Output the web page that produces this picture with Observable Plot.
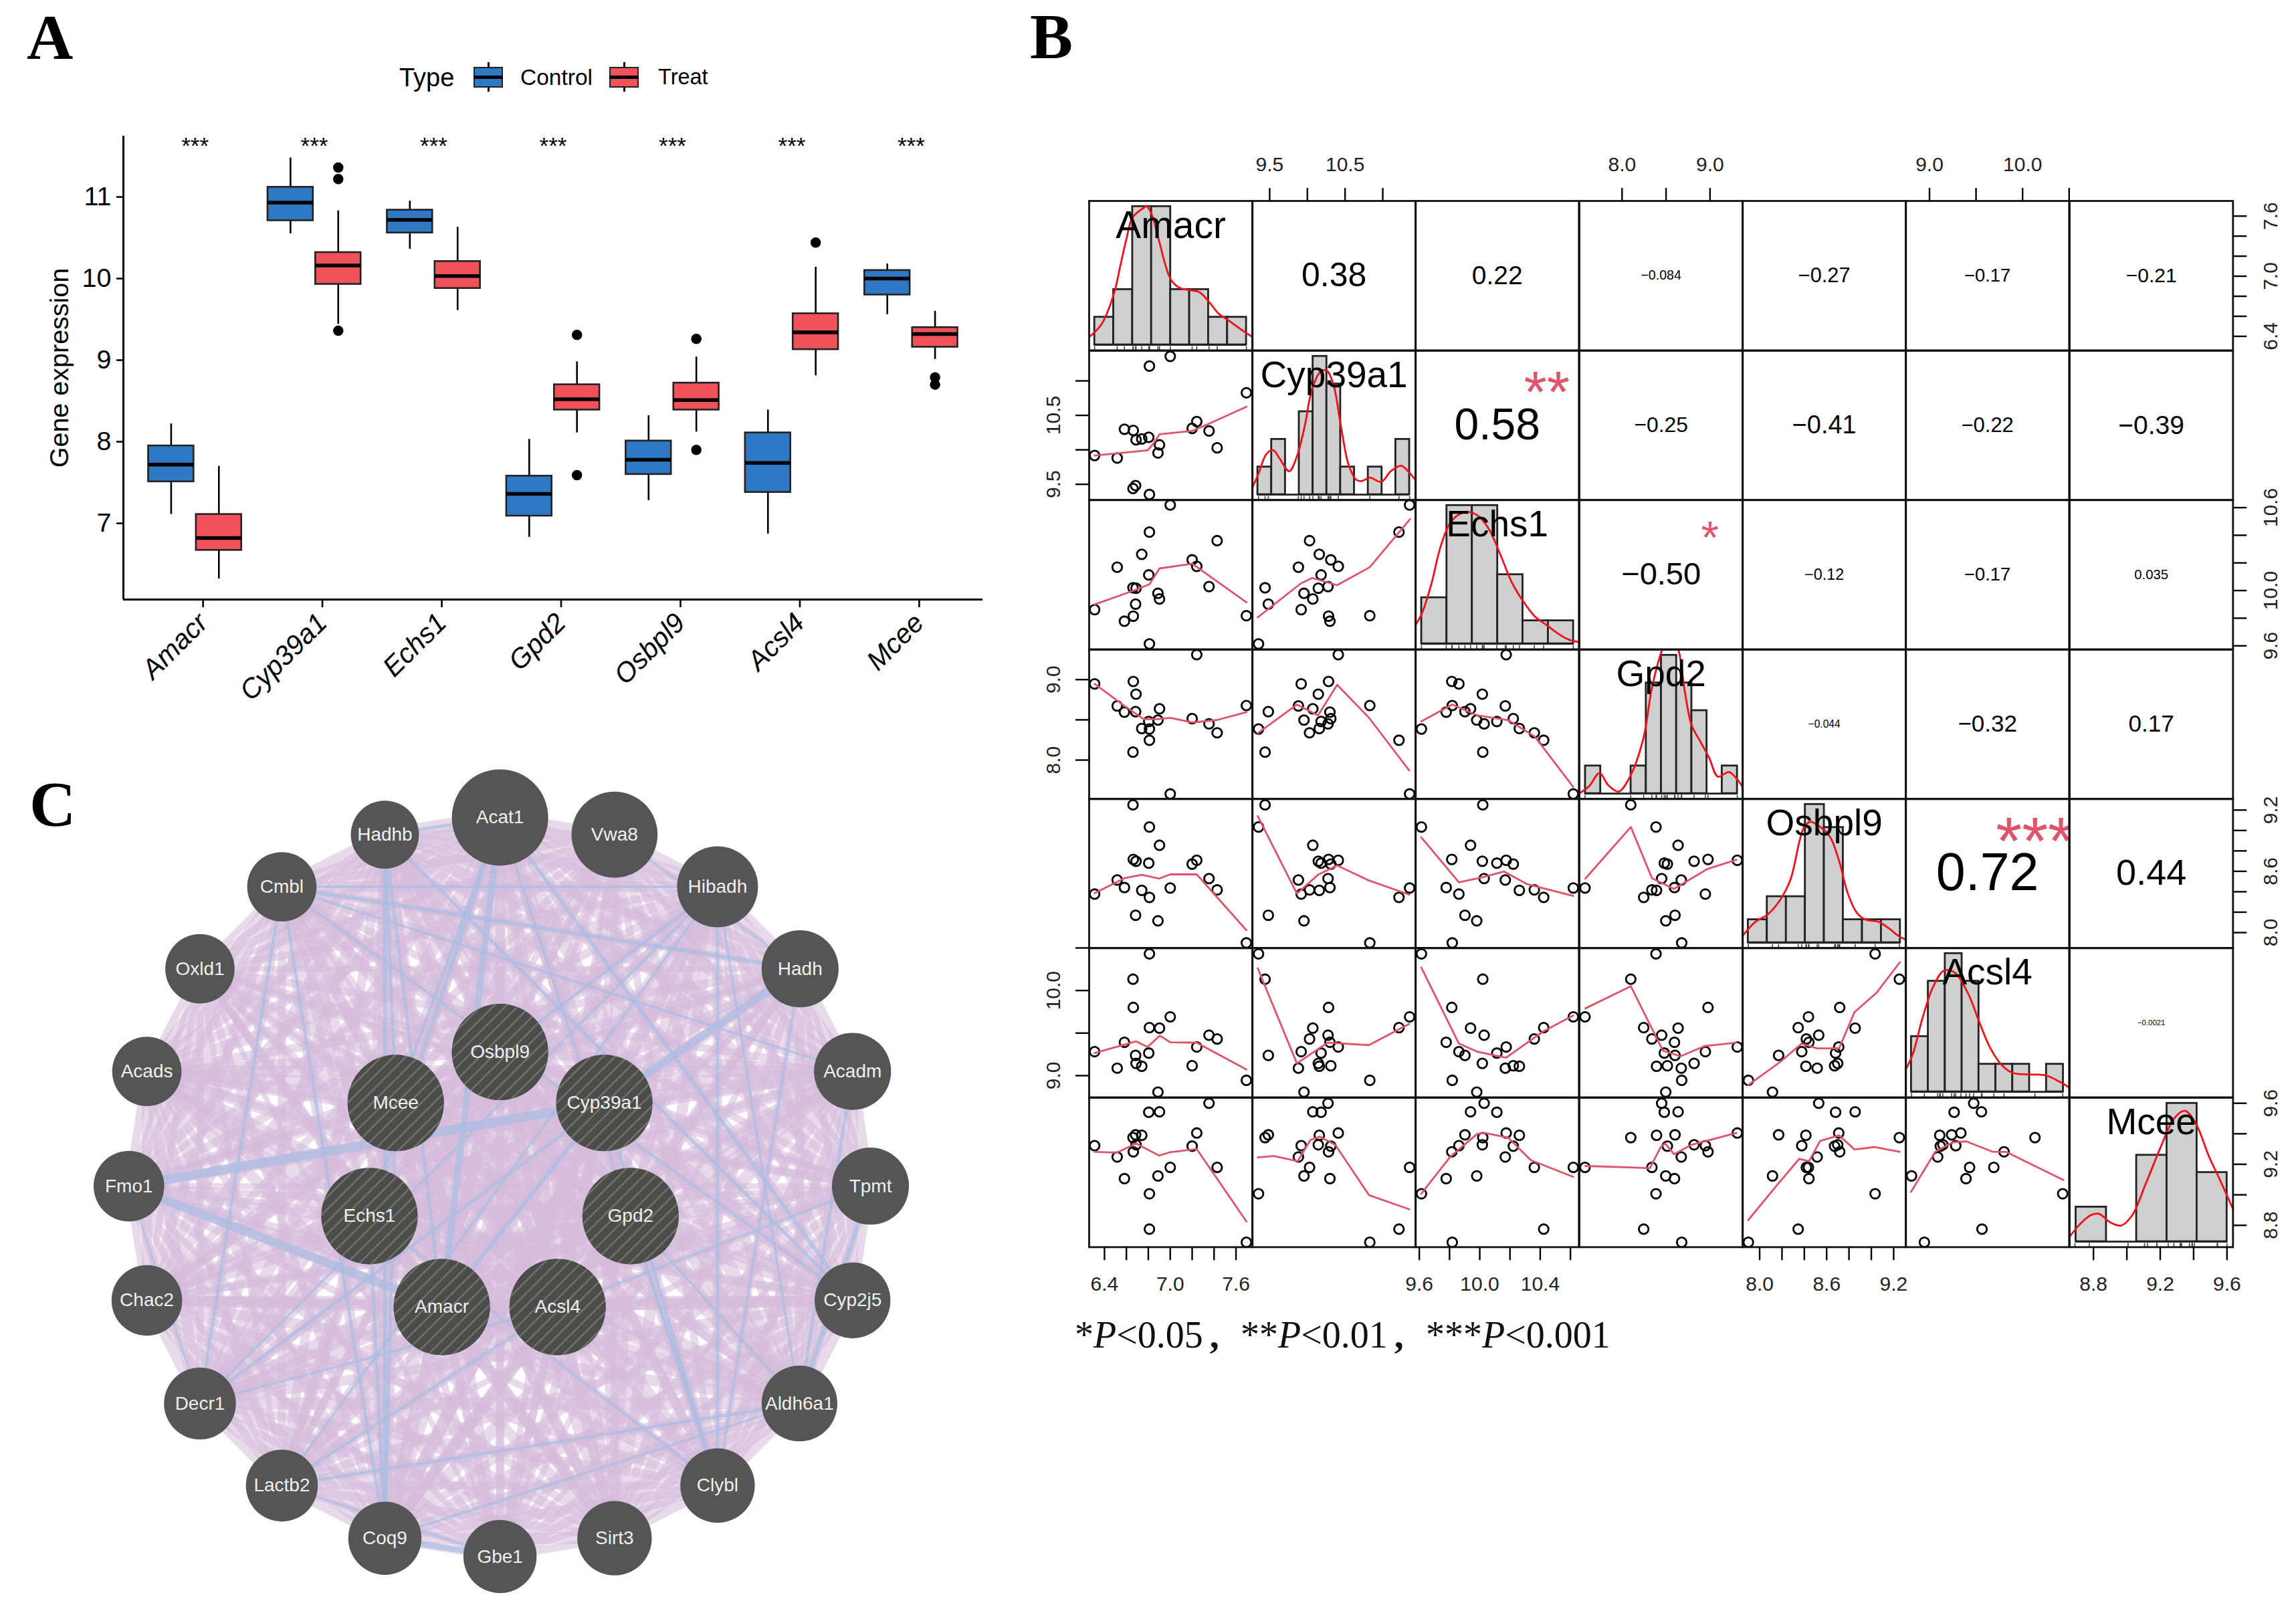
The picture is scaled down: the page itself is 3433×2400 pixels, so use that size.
<!DOCTYPE html>
<html>
<head>
<meta charset="utf-8">
<script src="https://cdn.jsdelivr.net/npm/d3@7"></script>
<script src="https://cdn.jsdelivr.net/npm/@observablehq/plot@0.6"></script>
<style>
html,body{margin:0;padding:0;background:#fff;overflow:hidden}
#page{position:relative;width:3433px;height:2400px;background:#fff;font-family:"Liberation Sans",Arial,sans-serif;overflow:hidden}
#page svg{position:absolute;overflow:visible;background:transparent}
.letter{position:absolute;font-family:"Liberation Serif",serif;font-weight:bold;font-size:96px;line-height:1;color:#000}
.abs{position:absolute;white-space:nowrap;line-height:1}
</style>
</head>
<body>
<div id="page"></div>
<script>
// ---------- Panel A: box plot ----------
const genes = ["Amacr","Cyp39a1","Echs1","Gpd2","Osbpl9","Acsl4","Mcee"];
const ctrlLow  = [7.11,10.55,10.36,6.83,7.28,6.87,9.56];
const ctrlQ1   = [7.51,10.71,10.56,7.09,7.60,7.38,9.80];
const ctrlMed  = [7.72,10.93,10.72,7.36,7.78,7.74,10.00];
const ctrlQ3   = [7.95,11.12,10.84,7.58,8.01,8.11,10.10];
const ctrlHigh = [8.22,11.48,10.95,8.03,8.32,8.39,10.18];
const treatLow  = [6.32,9.44,9.61,8.11,8.12,8.81,9.01];
const treatQ1   = [6.67,9.93,9.88,8.39,8.39,9.13,9.16];
const treatMed  = [6.82,10.16,10.03,8.52,8.51,9.34,9.32];
const treatQ3   = [7.11,10.32,10.21,8.70,8.72,9.57,9.40];
const treatHigh = [7.70,10.83,10.63,8.98,9.04,10.14,9.60];
const treatOutGene  = [2,2,2,4,4,5,5,6,7,7];
const treatOutValue = [11.36,11.22,9.36,9.31,7.59,9.26,7.90,10.44,8.79,8.70];
const signif = ["***","***","***","***","***","***","***"];
const typeColors = {Control:"#2F78C3",Treat:"#EF525A"};

// ---------- Panel B: samples ----------
const amacr  = [6.31,6.516,6.582,6.663,6.688,6.74,6.804,6.902,6.888,7.2,7.242,7.354,7.428,7.695,7.0,6.81,6.684,6.66,6.81];
const cyp39a1= [9.918,9.881,10.299,10.281,10.145,10.158,10.182,10.072,9.955,10.311,10.41,10.274,10.029,10.828,11.356,11.215,9.482,9.439,9.352];
const echs1  = [9.862,10.169,9.778,9.815,10.017,10.262,10.113,9.939,9.98,10.222,10.175,10.029,10.361,9.818,10.619,10.423,9.902,10.02,9.614];
const gpd2   = [8.947,8.673,8.596,8.977,8.819,8.392,8.48,8.637,8.497,8.515,9.31,8.45,8.339,8.678,7.579,8.246,8.602,8.099,8.386];
const osbpl9 = [8.377,8.515,8.441,8.717,8.699,8.414,8.68,8.855,8.115,8.671,8.708,8.529,8.418,7.899,8.437,8.345,8.17,9.251,9.034];
const acsl4  = [9.282,9.088,9.392,9.801,9.144,9.11,9.265,9.558,8.807,9.116,9.337,9.475,9.431,8.945,9.691,9.564,9.238,10.133,10.431];
const mcee   = [9.322,9.248,9.106,9.282,9.328,9.39,9.541,9.544,9.124,9.319,9.405,9.6,9.18,8.689,9.18,8.775,9.393,9.375,9.007];
const samples = [amacr,cyp39a1,echs1,gpd2,osbpl9,acsl4,mcee];
const domains = [[6.26,7.751],[9.27,11.437],[9.575,10.656],[7.515,9.372],[7.847,9.31],[8.745,10.5],[8.657,9.636]];

const histEdges = [
 [6.31,6.483,6.656,6.829,7.003,7.176,7.349,7.522,7.695],
 [9.342,9.525,9.708,9.891,10.074,10.257,10.44,10.623,10.806,10.989,11.172,11.355],
 [9.615,9.782,9.95,10.118,10.285,10.453,10.62],
 [7.583,7.756,7.928,8.101,8.274,8.446,8.619,8.792,8.964,9.137,9.31],
 [7.897,8.067,8.238,8.408,8.578,8.748,8.919,9.089,9.259],
 [8.805,8.986,9.168,9.349,9.53,9.712,9.893,10.074,10.256,10.437],
 [8.695,8.877,9.058,9.24,9.42,9.6]];
const histCounts = [
 [1,2,5,5,2,2,1,1],
 [1,2,0,3,5,4,1,0,1,0,2],
 [2,6,6,3,1,1],
 [1,0,0,1,4,5,4,3,0,1],
 [1,2,2,6,5,1,1,1],
 [2,4,5,4,1,1,1,0,1],
 [2,0,5,8,4]];
const densX = [
 [6.26,6.372,6.484,6.547,6.6,6.656,6.758,6.786,6.835,6.898,7.007,7.091,7.182,7.267,7.354,7.442,7.526,7.635,7.751],
 [9.266,9.353,9.454,9.546,9.632,9.759,9.861,9.963,10.064,10.176,10.257,10.344,10.446,10.547,10.649,10.725,10.827,10.979,11.106,11.244,11.335,11.432],
 [9.575,9.615,9.679,9.742,9.806,9.869,9.92,9.983,10.06,10.136,10.212,10.288,10.364,10.441,10.517,10.58,10.656],
 [7.517,7.627,7.744,7.844,7.962,8.09,8.24,8.34,8.455,8.545,8.64,8.715,8.79,8.89,8.99,9.09,9.215,9.305,9.37],
 [7.846,7.961,8.067,8.178,8.276,8.355,8.395,8.454,8.553,8.632,8.711,8.79,8.869,8.947,9.066,9.165,9.244,9.315],
 [8.744,8.824,8.919,9.038,9.157,9.275,9.418,9.536,9.655,9.774,9.892,10.058,10.248,10.391,10.5],
 [8.658,8.716,8.782,8.834,8.9,8.966,9.032,9.111,9.203,9.282,9.347,9.413,9.492,9.558,9.634]];
const densY = [
 [.056,.148,.364,.58,.765,.92,.99,1.0,.935,.75,.47,.41,.395,.38,.31,.225,.18,.117,.056],
 [.046,.153,.291,.322,.261,.169,.276,.491,.767,.89,.896,.798,.491,.215,.107,.098,.123,.092,.169,.209,.169,.107],
 [.136,.213,.429,.707,.877,.938,.954,.929,.83,.645,.444,.306,.198,.136,.074,.034,.012],
 [.003,.054,.149,.06,.014,.122,.393,.766,1.04,1.17,1.04,.732,.495,.376,.258,.122,.156,.105,.047],
 [.048,.15,.201,.303,.456,.728,.83,.874,.83,.762,.592,.354,.218,.167,.15,.099,.048,.02],
 [.16,.28,.519,.758,.877,.86,.706,.502,.314,.195,.137,.126,.119,.075,.031],
 [.037,.122,.19,.201,.139,.116,.19,.412,.684,.888,.946,.854,.616,.446,.241]];

// smooth lines, keyed "row,col": [x values],[y values]
const smooths = {
 "1,0":[[6.31,6.547,6.793,6.846,6.902,7.2,7.354,7.695],[9.918,9.955,9.992,10.09,10.225,10.274,10.379,10.625]],
 "2,0":[[6.31,6.66,6.81,6.902,7.2,7.695],[9.899,9.998,10.045,10.16,10.194,9.915]],
 "2,1":[[9.342,9.912,10.064,10.395,10.827,11.218,11.361],[9.806,10.051,10.091,10.039,10.169,10.423,10.516]],
 "3,0":[[6.31,6.582,6.758,6.888,7.0,7.2,7.424,7.695],[8.947,8.673,8.509,8.509,8.526,8.468,8.497,8.596]],
 "3,1":[[9.342,9.861,10.141,10.395,10.817,11.351],[8.333,8.69,8.556,8.936,8.526,7.871]],
 "3,2":[[9.613,9.818,9.983,10.187,10.364,10.618],[8.48,8.69,8.556,8.497,8.292,7.667]],
 "4,0":[[6.31,6.582,6.74,6.898,7.0,7.242,7.695],[8.386,8.533,8.566,8.529,8.57,8.57,8.023]],
 "4,1":[[9.342,9.861,10.141,10.395,10.817,11.351],[9.14,8.382,8.566,8.657,8.51,8.372]],
 "4,2":[[9.613,9.862,10.022,10.161,10.314,10.618],[8.933,8.492,8.543,8.598,8.474,8.359]],
 "4,3":[[7.583,8.1,8.34,8.59,8.965,9.3],[8.529,9.034,8.533,8.428,8.621,8.713]],
 "5,0":[[6.31,6.688,6.793,6.905,7.0,7.242,7.695],[9.265,9.403,9.337,9.47,9.392,9.387,9.072]],
 "5,1":[[9.342,9.861,10.268,10.817,11.351],[10.26,9.144,9.387,9.359,9.608]],
 "5,2":[[9.613,9.862,9.983,10.174,10.415,10.618],[10.271,9.376,9.282,9.21,9.514,9.707]],
 "5,3":[[7.583,8.1,8.465,8.665,8.94,9.3],[9.79,10.05,9.293,9.227,9.348,9.387]],
 "5,4":[[7.897,8.178,8.375,8.513,8.711,8.849,9.046,9.255],[8.889,9.155,9.376,9.32,9.32,9.746,9.972,10.331]],
 "6,0":[[6.31,6.512,6.688,6.898,7.0,7.242,7.695],[9.282,9.276,9.337,9.257,9.279,9.3,8.825]],
 "6,1":[[9.342,9.556,9.871,10.039,10.166,10.369,10.817,11.351],[9.245,9.254,9.22,9.359,9.381,9.328,8.998,8.905]],
 "6,2":[[9.613,9.806,9.983,10.034,10.187,10.339,10.618],[9.007,9.251,9.399,9.405,9.375,9.226,9.118]],
 "6,3":[[7.583,8.09,8.315,8.44,8.49,8.59,8.79,9.3],[9.189,9.18,9.174,9.313,9.337,9.266,9.328,9.405]],
 "6,4":[[7.897,8.158,8.355,8.442,8.541,8.711,8.849,9.026,9.255],[8.834,9.066,9.236,9.22,9.353,9.39,9.297,9.313,9.282]],
 "6,5":[[8.801,9.062,9.252,9.394,9.679,9.821,10.13,10.438],[9.019,9.282,9.344,9.35,9.282,9.282,9.189,9.097]]
};
// upper-triangle correlations, keyed "row,col"
const corrText = {
 "0,1":"0.38","0,2":"0.22","0,3":"−0.084","0,4":"−0.27","0,5":"−0.17","0,6":"−0.21",
 "1,2":"0.58","1,3":"−0.25","1,4":"−0.41","1,5":"−0.22","1,6":"−0.39",
 "2,3":"−0.50","2,4":"−0.12","2,5":"−0.17","2,6":"0.035",
 "3,4":"−0.044","3,5":"−0.32","3,6":"0.17",
 "4,5":"0.72","4,6":"0.44","5,6":"−0.0021"};
const corrSize = {
 "0,1":50,"0,2":39,"0,3":19.6,"0,4":30.7,"0,5":27.3,"0,6":30,
 "1,2":66,"1,3":31.8,"1,4":38,"1,5":31,"1,6":39,
 "2,3":47,"2,4":23.4,"2,5":27.3,"2,6":20.3,
 "3,4":15.6,"3,5":35,"3,6":35,
 "4,5":79,"4,6":54,"5,6":11.4};
const corrStars = {"1,2":"**","2,3":"*","4,5":"***"};
const starStyle = {"**":{fontSize:88,dy:-48,dx:74},"*":{fontSize:68,dy:-54,dx:73},"***":{fontSize:100,dy:-46,dx:71}};

const axTicks = [[6.4,6.6,6.8,7.0,7.2,7.4,7.6],[9.5,10,10.5,11],[9.6,9.8,10,10.2,10.4,10.6],[8,8.5,9],[8,8.2,8.4,8.6,8.8,9,9.2],[9,9.5,10,10.5],[8.8,9,9.2,9.4,9.6]];
const axLabelsTop    = [null,[9.5,10.5],null,[8,9],null,[9,10],null];
const axLabelsLeft   = [null,[9.5,10.5],null,[8,9],null,[9,10],null];
const axLabelsBottom = [[6.4,7,7.6],null,[9.6,10,10.4],null,[8,8.6,9.2],null,[8.8,9.2,9.6]];
const axLabelsRight  = [[6.4,7,7.6],null,[9.6,10,10.6],null,[8,8.6,9.2],null,[8.8,9.2,9.6]];

// ---------- Panel C: network ----------
const nodeNames = ["Acat1","Vwa8","Hibadh","Hadh","Acadm","Tpmt","Cyp2j5","Aldh6a1","Clybl","Sirt3","Gbe1","Coq9","Lactb2","Decr1","Chac2","Fmo1","Acads","Oxld1","Cmbl","Hadhb","Osbpl9","Cyp39a1","Gpd2","Acsl4","Amacr","Echs1","Mcee"];
const nodeX = [781,960,1121,1250,1332,1360,1332,1249,1121,960,781,601,440,312,229,201,229,312,440,601,781,944,985,871,690,577,618];
const nodeY = [147,178,272,420,605,812,1018,1204,1352,1447,1480,1447,1352,1204,1018,812,605,420,272,178,570,662,866,1030,1030,866,662];
const nodeSize = [75,67,63,60,60,60,59,59,58,58,57,57,56,56,55,55,54,54,54,53,75,75,75,75,75,75,75];
const nodeEdgeWeight = [1.3,0.9,1.15,0.85,1.2,0.8,1.05,1.25,0.95,1.1,0.8,1.2,0.9,1.1,1.0,0.85,1.15,0.75,1.05,1.2,1.0,1.25,0.9,1.1,1.3,0.85,1.15];
const queryGenes = ["Osbpl9","Cyp39a1","Gpd2","Acsl4","Amacr","Echs1","Mcee"];
const blueEdges = [
 ["Fmo1","Cyp39a1",14],["Hadh","Cyp39a1",12],["Fmo1","Amacr",13],["Acat1","Amacr",10],["Hadhb","Amacr",5],
 ["Cmbl","Hadh",6],["Cmbl","Acadm",4],["Cmbl","Hibadh",4],["Cmbl","Decr1",5],["Cmbl","Coq9",5],
 ["Hadhb","Coq9",6],["Hibadh","Decr1",4],["Hibadh","Aldh6a1",4],["Hibadh","Clybl",5],["Acat1","Cyp2j5",6],
 ["Acadm","Aldh6a1",5],["Tpmt","Aldh6a1",7],["Tpmt","Acsl4",4],["Aldh6a1","Lactb2",5],["Aldh6a1","Coq9",4],
 ["Lactb2","Gbe1",4],["Coq9","Gbe1",8],["Gpd2","Clybl",5],["Gpd2","Aldh6a1",4],["Cyp39a1","Clybl",5],
 ["Cyp39a1","Decr1",5],["Acsl4","Decr1",4],["Acsl4","Lactb2",5],["Mcee","Coq9",5],["Echs1","Coq9",5],
 ["Echs1","Acat1",6],["Mcee","Acat1",5],["Osbpl9","Hibadh",5],["Hadhb","Mcee",5],["Hadhb","Cyp2j5",5],
 ["Cmbl","Cyp2j5",4],["Amacr","Cyp39a1",7],["Hadh","Clybl",4],["Lactb2","Hibadh",4],["Hadhb","Acat1",5],
 ["Acat1","Clybl",4],["Vwa8","Hadh",3],["Fmo1","Decr1",3],["Echs1","Clybl",4]
];

// ---------- helpers ----------
const page = document.getElementById("page");
const FONT = '"Liberation Sans",Arial,sans-serif';
function place(svg,left,top){ svg.style.left=left+"px"; svg.style.top=top+"px"; page.appendChild(svg); return svg; }
function html(cls,text,left,top,css){ const d=document.createElement("div"); d.className=cls; d.innerHTML=text; d.style.left=left+"px"; d.style.top=top+"px"; Object.assign(d.style,css||{}); page.appendChild(d); return d; }

// ---------- Panel A ----------
(function(){
 const idx = genes.map((g,i)=>i);
 const dodge=0.2, half=0.19;
 const boxes=[];
 idx.forEach(i=>{
  boxes.push({c:i+1-dodge,type:"Control",low:ctrlLow[i],q1:ctrlQ1[i],med:ctrlMed[i],q3:ctrlQ3[i],high:ctrlHigh[i]});
  boxes.push({c:i+1+dodge,type:"Treat",low:treatLow[i],q1:treatQ1[i],med:treatMed[i],q3:treatQ3[i],high:treatHigh[i]});
 });
 const outliers = treatOutGene.map((g,i)=>({c:g+dodge,v:treatOutValue[i]}));
 const yMin=6.066,yMax=11.746,xMin=0.4,xMax=7.6;
 const plot = Plot.plot({
  width:1500,height:1100,marginLeft:184,marginRight:31,marginTop:203,marginBottom:204,
  style:{fontFamily:FONT,background:"transparent",color:"#000"},
  x:{domain:[xMin,xMax],axis:null},
  y:{domain:[yMin,yMax],axis:null},
  marks:[
   Plot.ruleX(boxes,{x:"c",y1:"low",y2:"high",stroke:"#000",strokeWidth:2.6}),
   Plot.rect(boxes,{x1:d=>d.c-half,x2:d=>d.c+half,y1:"q1",y2:"q3",fill:d=>typeColors[d.type],stroke:"#222",strokeWidth:2.6}),
   Plot.ruleY(boxes,{y:"med",x1:d=>d.c-half,x2:d=>d.c+half,stroke:"#000",strokeWidth:5.5}),
   Plot.dot(outliers,{x:"c",y:"v",r:7,fill:"#000",stroke:"#000"}),
   Plot.text(signif,{x:(d,i)=>i+1,y:()=>11.624,text:d=>d,fontSize:35,fill:"#000"}),
   Plot.ruleX([xMin],{stroke:"#000",strokeWidth:3}),
   Plot.ruleY([yMin],{stroke:"#000",strokeWidth:3}),
   Plot.axisY({ticks:[7,8,9,10,11],tickFormat:d=>String(d),tickSize:10,tickPadding:8,fontSize:39.5,strokeWidth:2.6,
     label:"Gene expression",labelAnchor:"center",labelArrow:"none",labelOffset:111}),
   Plot.axisX({ticks:[1,2,3,4,5,6,7],tickFormat:d=>genes[d-1],tickSize:12,tickPadding:16,dx:12,tickRotate:-45,fontSize:41,fontStyle:"italic",strokeWidth:2.6,label:null})
  ]
 });
 place(plot,0,0);
 // legend
 html("abs","Type",597,97,{fontSize:"38px",color:"#000"});
 function key(left,color){
  html("abs","",left+21,93,{width:"2.6px",height:"44px",background:"#000"});
  html("abs","",left,100,{boxSizing:"border-box",width:"44px",height:"31px",background:color,border:"2.6px solid #222"});
  html("abs","",left,113,{width:"44px",height:"4.5px",background:"#000"});
 }
 key(708,typeColors.Control);
 html("abs","Control",778,99,{fontSize:"33.5px",color:"#000"});
 key(911,typeColors.Treat);
 html("abs","Treat",984,99,{fontSize:"32.5px",color:"#000"});
})();

// ---------- Panel B ----------
(function(){
 const L=1627.7,T=300.4,W=244.3,H=223.4,M=90;
 const n=7;
 const fmt=d=>d.toFixed(1);
 const dens=[-0.04,1.04];
 const labelSize={Amacr:57};
 const ts=20,pad=24,padRight=46;
 const lab=(list)=>d=>(list||[]).includes(d)?fmt(d):"";
 const rightAxis=(r)=>Plot.axisY({anchor:"right",ticks:axTicks[r],tickFormat:lab(axLabelsRight[r]),tickSize:ts,tickPadding:padRight,tickRotate:-90,fontSize:30,strokeWidth:2.4,label:null,fill:"#222"});
 for(let r=0;r<n;r++)for(let c=0;c<n;c++){
  const key=r+","+c;
  const marks=[];
  let yDom;
  if(r===c){
   yDom=dens;
   const e=histEdges[c],cnt=histCounts[c],mx=d3.max(cnt);
   const bars=cnt.map((k,i)=>({x1:e[i],x2:e[i+1],h:k/mx})).filter(b=>b.h>0);
   marks.push(Plot.rect(bars,{x1:"x1",x2:"x2",y1:()=>0,y2:"h",fill:"#CFCFCF",stroke:"#222",strokeWidth:2.8}));
   const base=[{a:e[0],b:e[e.length-1]}];
   marks.push(Plot.ruleY(base,{y:()=>0,x1:"a",x2:"b",stroke:"#222",strokeWidth:2.8}));
   marks.push(Plot.ruleX(samples[c],{x:d=>d,y1:()=>-0.04,y2:()=>-0.012,stroke:"#444",strokeWidth:1.6}));
   const dp=densX[c].map((x,i)=>({x,y:densY[c][i]}));
   marks.push(Plot.line(dp,{x:"x",y:"y",stroke:"#F2101A",strokeWidth:2.8,curve:"catmull-rom",clip:true}));
   marks.push(Plot.text([genes[c]],{frameAnchor:"top",lineAnchor:"middle",dy:37,text:d=>d,fontSize:labelSize[genes[c]]||55,fill:"#000"}));
  } else if(r>c){
   yDom=domains[r];
   const pts=samples[c].map((x,i)=>({x,y:samples[r][i]}));
   marks.push(Plot.dot(pts,{x:"x",y:"y",r:7.2,stroke:"#000",strokeWidth:2.8,fill:"none"}));
   const s=smooths[key];
   marks.push(Plot.line(s[0].map((x,i)=>({x,y:s[1][i]})),{x:"x",y:"y",stroke:"#DF536B",strokeWidth:2.8}));
  } else {
   yDom=domains[r];
   marks.push(Plot.text([corrText[key]],{frameAnchor:"middle",text:d=>d,fontSize:corrSize[key],fill:"#000"}));
   if(corrStars[key]){
    const st=corrStars[key],ss=starStyle[st];
    marks.push(Plot.text([st],{frameAnchor:"middle",text:d=>d,fontSize:ss.fontSize,dx:ss.dx,dy:ss.dy,fill:"#DF536B",clip:true}));
   }
  }
  marks.push(Plot.frame({stroke:"#111",strokeWidth:2.8}));
  if(r===0&&axLabelsTop[c]) marks.push(Plot.axisX({anchor:"top",ticks:axTicks[c],tickFormat:lab(axLabelsTop[c]),tickSize:ts,tickPadding:pad,fontSize:30,strokeWidth:2.4,label:null,fill:"#222"}));
  if(r===n-1&&axLabelsBottom[c]) marks.push(Plot.axisX({anchor:"bottom",ticks:axTicks[c],tickFormat:lab(axLabelsBottom[c]),tickSize:ts,tickPadding:pad,fontSize:30,strokeWidth:2.4,label:null,fill:"#222"}));
  if(c===0&&axLabelsLeft[r]) marks.push(Plot.axisY({anchor:"left",ticks:axTicks[r],tickFormat:lab(axLabelsLeft[r]),tickSize:ts,tickPadding:pad,tickRotate:-90,fontSize:30,strokeWidth:2.4,label:null,fill:"#222"}));
  if(c===n-1&&axLabelsRight[r]&&r!==c) marks.push(rightAxis(r));
  const plot=Plot.plot({
   width:W+2*M,height:H+2*M,marginLeft:M,marginRight:M,marginTop:M,marginBottom:M,
   style:{fontFamily:FONT,background:"transparent",color:"#000"},
   x:{domain:domains[c],axis:null},
   y:{domain:yDom,axis:null},
   marks
  });
  place(plot,L+c*W-M,T+r*H-M);
 }
 // the last diagonal cell's right axis reads on the Mcee scale, not the histogram's
 const last=Plot.plot({
  width:W+2*M,height:H+2*M,marginLeft:M,marginRight:M,marginTop:M,marginBottom:M,
  style:{fontFamily:FONT,background:"transparent",color:"#000"},
  x:{domain:domains[6],axis:null},
  y:{domain:domains[6],axis:null},
  marks:[rightAxis(6)]
 });
 place(last,L+6*W-M,T+6*H-M);
 const capCss={fontFamily:'"Liberation Serif",serif',fontSize:"56px",color:"#111"};
 const cap=(p)=>`*`.repeat(p[0])+`<i>P</i>&lt;${p[1]}<b style="margin-left:10px">,</b>`;
 html("abs",cap([1,"0.05"]),1607,1968,capCss);
 html("abs",cap([2,"0.01"]),1855,1968,capCss);
 html("abs",(`*`.repeat(3))+`<i>P</i>&lt;0.001`,2132,1968,capCss);
})();

// ---------- Panel C ----------
(function(){
 const nodes=nodeNames.map((name,i)=>({name,x:nodeX[i],y:nodeY[i],s:nodeSize[i],k:nodeEdgeWeight[i],q:queryGenes.includes(name)}));
 const by=Object.fromEntries(nodes.map(d=>[d.name,d]));
 const purple=[];
 for(let i=0;i<nodes.length;i++)for(let j=i+1;j<nodes.length;j++)purple.push({a:nodes[i],b:nodes[j],w:13*nodes[i].k*nodes[j].k});
 const blue=blueEdges.map(([a,b,w])=>({a:by[a],b:by[b],w}));
 const plot=Plot.plot({
  width:1500,height:1300,margin:0,
  style:{fontFamily:FONT,background:"transparent"},
  x:{domain:[0,1568],range:[0,1500],axis:null},
  y:{domain:[0,1568],range:[0,1300],axis:null},
  r:{type:"linear",domain:[0,75],range:[0,72]},
  marks:[
   Plot.link(purple,{x1:d=>d.a.x,y1:d=>d.a.y,x2:d=>d.b.x,y2:d=>d.b.y,stroke:"#D6BBDB",strokeOpacity:0.55,strokeWidth:"w"}),
   Plot.link(blue,{x1:d=>d.a.x,y1:d=>d.a.y,x2:d=>d.b.x,y2:d=>d.b.y,stroke:"#A9BDE3",strokeOpacity:0.7,strokeWidth:"w"}),
   Plot.dot(nodes,{x:"x",y:"y",r:"s",fill:"#545554"}),
   Plot.dot(nodes.filter(d=>d.q),{x:"x",y:"y",r:"s",fill:"url(#hatchC)"}),
   Plot.text(nodes,{x:"x",y:"y",text:"name",fontSize:28,fill:"#EFEFEF"})
  ]
 });
 const ns="http://www.w3.org/2000/svg";
 const defs=document.createElementNS(ns,"defs");
 defs.innerHTML=`<pattern id="hatchC" width="13" height="13" patternUnits="userSpaceOnUse" patternTransform="rotate(45)"><rect width="13" height="13" fill="#4C4D4B"/><rect x="0" width="2.2" height="13" fill="#747574"/></pattern>`;
 plot.insertBefore(defs,plot.firstChild);
 place(plot,0,1100);
})();

// ---------- letters ----------
html("letter","A",40,8);
html("letter","B",1540,7);
html("letter","C",44,1155);
</script>
</body>
</html>
